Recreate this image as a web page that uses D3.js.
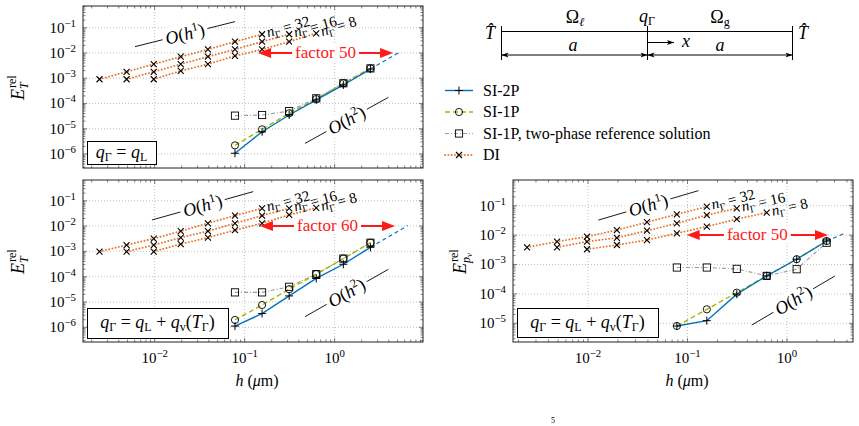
<!DOCTYPE html>
<meta charset="utf-8">
<body style="margin:0;background:#fff">
<script src="https://cdn.jsdelivr.net/npm/d3@7/dist/d3.min.js"></script>
<script>

const width = 859, height = 426
const colors = {si2p: '#0072bd', si1p: '#a9b600', ref: '#9a9a9a', di: '#e8772e', red: '#ff1a1a'}
const serifFace = 'Liberation Serif'

// mesh sizes h (um)
const hSI = [0.078125, 0.15625, 0.3125, 0.625, 1.25, 2.5]
const hDI = [0.00244, 0.00488, 0.00977, 0.0195, 0.0391, 0.078125, 0.15625, 0.3125, 0.625]
const nGamma = [32, 16, 8]
const diStart = [0, 1, 2]   // first hDI index of each DI series

// top left: q_G = q_L
const si2pA = [1.07e-6, 7.6e-6, 3.5e-5, 1.38e-4, 5.4e-4, 2.3e-3]
const si1pA = [2.2e-6, 9.5e-6, 4.1e-5, 1.5e-4, 6.3e-4, 2.45e-3]
const refA  = [3.3e-5, 3.5e-5, 5.0e-5, 1.6e-4, 6.3e-4, 2.45e-3]
const di32A = [9.1e-4, 1.8e-3, 3.6e-3, 7.1e-3, 1.38e-2, 2.8e-2, 5.5e-2]
const di16A = [9.1e-4, 1.8e-3, 3.6e-3, 7.1e-3, 1.38e-2, 2.8e-2, 5.5e-2]
const di8A  = [9.1e-4, 1.95e-3, 3.6e-3, 7.6e-3, 1.38e-2, 2.8e-2, 6.0e-2]
const extA  = [[2.5, 2.3e-3], [5.1, 1.0e-2]]
const arrowA = {h: [0.141, 4.46], e: 1e-2, text: 'factor 50'}
const o1A = [[0.00605, 0.0178], [0.0782, 0.174]]
const o2A = [[0.468, 2.63e-6], [3.95, 1.74e-4]]

// bottom left: q_G = q_L + q_v(T_G)
const si2pB = [1.12e-6, 3.5e-6, 1.74e-5, 8.5e-5, 3.1e-4, 1.45e-3]
const si1pB = [1.95e-6, 7.6e-6, 3.2e-5, 1.26e-4, 5.2e-4, 2.2e-3]
const refB  = [2.4e-5, 2.4e-5, 4.0e-5, 1.26e-4, 5.2e-4, 2.2e-3]
const di32B = [9.8e-4, 1.78e-3, 3.2e-3, 6.3e-3, 1.29e-2, 2.6e-2, 5.0e-2]
const di16B = [9.8e-4, 1.78e-3, 3.5e-3, 6.3e-3, 1.29e-2, 2.6e-2, 5.0e-2]
const di8B  = [9.8e-4, 1.95e-3, 3.5e-3, 6.9e-3, 1.29e-2, 2.75e-2, 5.2e-2]
const extB  = [[2.5, 1.45e-3], [6.5, 1.05e-2]]
const arrowB = {h: [0.148, 4.69], e: 1e-2, text: 'factor 60'}
const o1B = [[0.00933, 0.0174], [0.1245, 0.229]]
const o2B = [[0.468, 2.63e-6], [3.95, 1.95e-4]]

// bottom right: vapour pressure error
const si2pC = [8.1e-6, 1.23e-5, 9.8e-5, 4.1e-4, 1.51e-3, 6.3e-3]
const si1pC = [8.1e-6, 3.0e-5, 1.1e-4, 4.1e-4, 1.51e-3, 6.3e-3]
const refC  = [7.9e-4, 7.9e-4, 7.1e-4, 4.1e-4, 6.9e-4, 5.5e-3]
const di32C = [3.85e-3, 6.0e-3, 8.9e-3, 1.48e-2, 2.75e-2, 5.1e-2, 9.3e-2]
const di16C = [3.85e-3, 6.0e-3, 8.1e-3, 1.41e-2, 2.5e-2, 4.8e-2, 8.1e-2]
const di8C  = [3.3e-3, 4.6e-3, 6.8e-3, 1.15e-2, 1.95e-2, 3.5e-2, 5.8e-2]
const extC  = [[2.5, 6.3e-3], [3.7, 1.1e-2]]
const arrowC = {h: [0.098, 2.58], e: 1e-2, text: 'factor 50'}
const o1C = [[0.0127, 0.0324], [0.1285, 0.324]]
const o2C = [[0.4416, 8.7e-6], [3.03, 4.07e-4]]

const svg = d3.select('body').append('svg')
    .attr('width', width).attr('height', height)

const defs = svg.append('defs')
defs.append('marker').attr('id', 'tip')
    .attr('viewBox', '0 0 10 10').attr('refX', 10).attr('refY', 5)
    .attr('markerWidth', 7).attr('markerHeight', 7).attr('orient', 'auto-start-reverse')
    .attr('markerUnits', 'userSpaceOnUse')
  .append('path').attr('d', 'M0,1.5L10,5L0,8.5L2.5,5Z').attr('fill', '#000')

function txt(sel) {
  return sel.append('text')
    .attr('font-family', serifFace)
    .style('font-family', serifFace, 'important')
}

function logTicks(dom) {
  const major = [], minor = []
  const lo = Math.floor(Math.log10(dom[0])), hi = Math.ceil(Math.log10(dom[1]))
  for (let k = lo; k <= hi; k++) {
    for (let m = 1; m < 10; m++) {
      const v = m * Math.pow(10, k)
      if (v < dom[0] || v > dom[1]) continue
      if (m === 1) major.push(v); else minor.push(v)
    }
  }
  return {major, minor}
}

function powLabel(sel, v, size) {
  const k = Math.round(Math.log10(v))
  sel.append('tspan').text('10')
  sel.append('tspan').attr('dy', -6).attr('font-size', size * 0.72)
    .text(k < 0 ? '\u2212' + (-k) : k)
}

const marks = {
  plus: (g, cx, cy) => g.append('path').attr('d', `M${cx-4},${cy}h8M${cx},${cy-4}v8`)
      .attr('stroke', '#000').attr('stroke-width', 1),
  circle: (g, cx, cy) => g.append('circle').attr('cx', cx).attr('cy', cy).attr('r', 3.6)
      .attr('fill', 'none').attr('stroke', '#000').attr('stroke-width', 0.9),
  square: (g, cx, cy) => g.append('rect').attr('x', cx-3.6).attr('y', cy-3.6)
      .attr('width', 7.2).attr('height', 7.2)
      .attr('fill', 'none').attr('stroke', '#000').attr('stroke-width', 0.9),
  cross: (g, cx, cy) => g.append('path').attr('d', `M${cx-3},${cy-3}l6,6M${cx-3},${cy+3}l6,-6`)
      .attr('stroke', '#000').attr('stroke-width', 1.1)
}

const styles = {
  si2p: {stroke: colors.si2p, dash: null, width: 1.4},
  si1p: {stroke: colors.si1p, dash: '5,3', width: 1.4},
  ref:  {stroke: colors.ref, dash: '4,2,1,2', width: 1.1},
  di:   {stroke: colors.di, dash: '0.1,3.2', width: 1.9}
}

function drawLine(g, pts, st, x, y) {
  g.append('path')
    .attr('d', d3.line().x(d => x(d[0])).y(d => y(d[1]))(pts))
    .attr('fill', 'none')
    .attr('stroke', st.stroke)
    .attr('stroke-width', st.width)
    .attr('stroke-dasharray', st.dash)
    .attr('stroke-linecap', st === styles.di ? 'round' : 'butt')
}

function orderLabel(g, seg, sup, x, y) {
  const p0 = [x(seg[0][0]), y(seg[0][1])], p1 = [x(seg[1][0]), y(seg[1][1])]
  g.append('line').attr('x1', p0[0]).attr('y1', p0[1]).attr('x2', p1[0]).attr('y2', p1[1])
    .attr('stroke', '#000').attr('stroke-width', 0.9)
  const ang = Math.atan2(p1[1] - p0[1], p1[0] - p0[0]) * 180 / Math.PI
  const lg = g.append('g')
    .attr('transform', `translate(${(p0[0]+p1[0])/2},${(p0[1]+p1[1])/2}) rotate(${ang})`)
  const t = txt(lg).attr('text-anchor', 'middle').attr('y', 6).attr('font-size', 18)
  t.append('tspan').attr('font-style', 'italic').text('O')
  t.append('tspan').text('(')
  t.append('tspan').attr('font-style', 'italic').text('h')
  t.append('tspan').attr('dy', -7).attr('font-size', 12).text(sup)
  t.append('tspan').attr('dy', 7).text(')')
  const bb = t.node().getBBox()
  lg.insert('rect', 'text').attr('x', bb.x - 3).attr('y', bb.y + 1)
    .attr('width', bb.width + 6).attr('height', bb.height - 2).attr('fill', '#fff')
}

function qLabel(sel, full) {
  sel.append('tspan').attr('font-style', 'italic').text('q')
  sel.append('tspan').attr('dy', 3).attr('font-size', 12).text('\u0393')
  sel.append('tspan').attr('dy', -3).text(' = ')
  sel.append('tspan').attr('font-style', 'italic').text('q')
  sel.append('tspan').attr('dy', 3).attr('font-size', 12).text('L')
  if (full) {
    sel.append('tspan').attr('dy', -3).text(' + ')
    sel.append('tspan').attr('font-style', 'italic').text('q')
    sel.append('tspan').attr('dy', 3).attr('font-size', 12).text('v')
    sel.append('tspan').attr('dy', -3).text('(')
    sel.append('tspan').attr('font-style', 'italic').text('T')
    sel.append('tspan').attr('dy', 3).attr('font-size', 12).text('\u0393')
    sel.append('tspan').attr('dy', -3).text(')')
  }
}

function drawPanel(p) {
  const x = d3.scaleLog().domain(p.xDom).range([p.left, p.right])
  const y = d3.scaleLog().domain(p.yDom).range([p.bottom, p.top])
  const g = svg.append('g')
  const xt = logTicks(p.xDom), yt = logTicks(p.yDom)

  // grid
  g.selectAll(null).data(xt.major).enter().append('line')
    .attr('x1', d => x(d)).attr('x2', d => x(d)).attr('y1', p.top).attr('y2', p.bottom)
    .attr('stroke', '#b0b0b0').attr('stroke-width', 0.8).attr('stroke-dasharray', '1,2')
  g.selectAll(null).data(yt.major).enter().append('line')
    .attr('y1', d => y(d)).attr('y2', d => y(d)).attr('x1', p.left).attr('x2', p.right)
    .attr('stroke', '#b0b0b0').attr('stroke-width', 0.8).attr('stroke-dasharray', '1,2')

  // ticks, all four sides, inward
  const tickPath = []
  xt.major.concat(xt.minor).forEach(v => {
    const L = xt.major.includes(v) ? 4 : 2.5, X = x(v)
    tickPath.push(`M${X},${p.bottom}v${-L}M${X},${p.top}v${L}`)
  })
  yt.major.concat(yt.minor).forEach(v => {
    const L = yt.major.includes(v) ? 4 : 2.5, Y = y(v)
    tickPath.push(`M${p.left},${Y}h${L}M${p.right},${Y}h${-L}`)
  })
  g.append('path').attr('d', tickPath.join('')).attr('fill', 'none')
    .attr('stroke', '#333').attr('stroke-width', 0.6)

  // tick labels
  yt.major.forEach(v => {
    const t = txt(g).attr('x', p.left - 7).attr('y', y(v) + 5)
      .attr('text-anchor', 'end').attr('font-size', 15)
    powLabel(t, v, 15)
  })
  if (p.xLabels) {
    xt.major.forEach(v => {
      const t = txt(g).attr('x', x(v)).attr('y', p.bottom + 21)
        .attr('text-anchor', 'middle').attr('font-size', 15)
      powLabel(t, v, 15)
    })
    const xl = txt(g).attr('x', (p.left + p.right) / 2 + 4).attr('y', p.bottom + 44)
      .attr('text-anchor', 'middle').attr('font-size', 16)
    xl.append('tspan').attr('font-style', 'italic').text('h')
    xl.append('tspan').text(' (')
    xl.append('tspan').attr('font-style', 'italic').text('\u03bc')
    xl.append('tspan').text('m)')
  }

  // y label E^rel_sub
  const yl = g.append('g').attr('transform', `translate(${p.yLabelX},${(p.top + p.bottom) / 2}) rotate(-90)`)
  const e = txt(yl).attr('font-size', 18).attr('font-style', 'italic').text('E')
  const ew = e.node().getComputedTextLength()
  const tot = ew + 15
  e.attr('x', -tot / 2)
  txt(yl).attr('x', -tot / 2 + ew + 1).attr('y', -8).attr('font-size', 12).text('rel')
  const s = txt(yl).attr('x', -tot / 2 + ew).attr('y', 4).attr('font-size', 12).attr('font-style', 'italic')
  if (p.yLabelSub === 'p') {
    s.append('tspan').text('p')
    s.append('tspan').attr('dy', 2).attr('font-size', 9).text('v')
  } else s.text('T')

  // DI series
  p.di.forEach((vals, i) => {
    const pts = vals.map((v, j) => [hDI[diStart[i] + j], v])
    drawLine(g, pts, styles.di, x, y)
  })
  // SI series
  drawLine(g, hSI.map((h, i) => [h, p.ref[i]]), styles.ref, x, y)
  drawLine(g, hSI.map((h, i) => [h, p.si1p[i]]), styles.si1p, x, y)
  drawLine(g, hSI.map((h, i) => [h, p.si2p[i]]), styles.si2p, x, y)
  g.append('path')
    .attr('d', d3.line().x(d => x(d[0])).y(d => y(d[1]))(p.ext))
    .attr('fill', 'none').attr('stroke', colors.si2p).attr('stroke-width', 1.1)
    .attr('stroke-dasharray', '4,3')

  // markers
  p.di.forEach((vals, i) => vals.forEach((v, j) => marks.cross(g, x(hDI[diStart[i] + j]), y(v))))
  hSI.forEach((h, i) => marks.square(g, x(h), y(p.ref[i])))
  hSI.forEach((h, i) => marks.circle(g, x(h), y(p.si1p[i])))
  hSI.forEach((h, i) => marks.plus(g, x(h), y(p.si2p[i])))

  // n_Gamma labels at the end of each DI series
  p.di.forEach((vals, i) => {
    const n = vals.length
    const a = [x(hDI[diStart[i] + n - 2]), y(vals[n - 2])]
    const b = [x(hDI[diStart[i] + n - 1]), y(vals[n - 1])]
    const ang = Math.atan2(b[1] - a[1], b[0] - a[0]) * 180 / Math.PI
    const t = txt(g).attr('font-size', 15)
      .attr('transform', `translate(${b[0] + 6},${b[1] + 3}) rotate(${ang})`)
    t.append('tspan').attr('font-style', 'italic').text('n')
    t.append('tspan').attr('dy', 3).attr('font-size', 10).text('\u0393')
    t.append('tspan').attr('dy', -3).text(' = ' + nGamma[i])
  })

  // order lines
  orderLabel(g, p.o1, '1', x, y)
  orderLabel(g, p.o2, '2', x, y)

  // factor arrow
  const ax1 = x(p.arrow.h[0]), ax2 = x(p.arrow.h[1]), ay = y(p.arrow.e)
  g.append('line').attr('x1', ax1 + 8).attr('x2', ax2 - 8).attr('y1', ay).attr('y2', ay)
    .attr('stroke', colors.red).attr('stroke-width', 2)
  g.append('path').attr('d', `M${ax1},${ay}l13,-5v10Z M${ax2},${ay}l-13,-5v10Z`).attr('fill', colors.red)
  const ft = txt(g).attr('x', (ax1 + ax2) / 2).attr('y', ay + 5)
    .attr('text-anchor', 'middle').attr('font-size', 17).attr('fill', colors.red).text(p.arrow.text)
  const fb = ft.node().getBBox()
  g.insert('rect', () => ft.node()).attr('x', fb.x - 3).attr('y', fb.y + 1)
    .attr('width', fb.width + 6).attr('height', fb.height - 2).attr('fill', '#fff')

  // q box
  g.append('rect').attr('x', p.qBox[0] + 0.5).attr('y', p.qBox[1] + 0.5)
    .attr('width', p.qBox[2]).attr('height', p.qBox[3])
    .attr('fill', '#fff').attr('stroke', '#000').attr('stroke-width', 1)
  const qt = txt(g).attr('x', p.qBox[0] + p.qBox[2] / 2).attr('y', p.qBox[1] + p.qBox[3] / 2 + 5)
    .attr('text-anchor', 'middle').attr('font-size', 18)
  qLabel(qt, p.qFull)

  // frame
  g.append('rect').attr('x', p.left).attr('y', p.top)
    .attr('width', p.right - p.left).attr('height', p.bottom - p.top)
    .attr('fill', 'none').attr('stroke', '#222').attr('stroke-width', 1)
}

drawPanel({left: 83, right: 423, top: 6, bottom: 168,
  xDom: [Math.pow(10, -2.796), Math.pow(10, 0.982)], yDom: [Math.pow(10, -6.554), Math.pow(10, -0.141)],
  si2p: si2pA, si1p: si1pA, ref: refA, di: [di32A, di16A, di8A], ext: extA, arrow: arrowA,
  o1: o1A, o2: o2A, qBox: [87, 141, 69, 23], qFull: false, xLabels: false, yLabelX: 24, yLabelSub: 'T'})

drawPanel({left: 83, right: 423, top: 180, bottom: 342,
  xDom: [Math.pow(10, -2.796), Math.pow(10, 0.982)], yDom: [Math.pow(10, -6.58), Math.pow(10, -0.18)],
  si2p: si2pB, si1p: si1pB, ref: refB, di: [di32B, di16B, di8B], ext: extB, arrow: arrowB,
  o1: o1B, o2: o2B, qBox: [87, 308, 141, 30], qFull: true, xLabels: true, yLabelX: 24, yLabelSub: 'T'})

drawPanel({left: 513, right: 853, top: 180, bottom: 342,
  xDom: [Math.pow(10, -2.754), Math.pow(10, 0.663)], yDom: [Math.pow(10, -5.636), Math.pow(10, -0.126)],
  si2p: si2pC, si1p: si1pC, ref: refC, di: [di32C, di16C, di8C], ext: extC, arrow: arrowC,
  o1: o1C, o2: o2C, qBox: [517, 308, 141, 29], qFull: true, xLabels: true, yLabelX: 466, yLabelSub: 'p'})

// legend
const legendItems = [
  {name: 'SI-2P', st: styles.si2p, mark: 'plus'},
  {name: 'SI-1P', st: styles.si1p, mark: 'circle'},
  {name: 'SI-1P, two-phase reference solution', st: styles.ref, mark: 'square'},
  {name: 'DI', st: styles.di, mark: 'cross'}
]
const lg = svg.append('g')
legendItems.forEach((d, i) => {
  const yy = 90.5 + i * 21.5
  lg.append('line').attr('x1', 445).attr('x2', 473).attr('y1', yy).attr('y2', yy)
    .attr('stroke', d.st.stroke).attr('stroke-width', d.st.width)
    .attr('stroke-dasharray', d.st.dash).attr('stroke-linecap', d.mark === 'cross' ? 'round' : 'butt')
  marks[d.mark](lg, 459, yy)
  txt(lg).attr('x', 483).attr('y', yy + 5).attr('font-size', 16).text(d.name)
})

// schematic of the 1D problem
const sk = svg.append('g').attr('stroke', '#000').attr('stroke-width', 1)
const xl = 501.5, xm = 647.5, xr = 792.5
sk.append('path').attr('d', `M${xl},26V60M${xm},26V60M${xr},26V60M${xl},31.5H${xr}`).attr('fill', 'none')
sk.append('line').attr('x1', xl).attr('x2', xm).attr('y1', 55).attr('y2', 55)
  .attr('marker-start', 'url(#tip)').attr('marker-end', 'url(#tip)')
sk.append('line').attr('x1', xm).attr('x2', xr).attr('y1', 55).attr('y2', 55)
  .attr('marker-start', 'url(#tip)').attr('marker-end', 'url(#tip)')
sk.append('line').attr('x1', xm).attr('x2', 674).attr('y1', 42.5).attr('y2', 42.5)
  .attr('marker-end', 'url(#tip)')
const skText = [
  {x: 490, y: 39, t: 'T\u0302'},
  {x: 803, y: 39, t: 'T\u0302'},
  {x: 573, y: 51, t: 'a'},
  {x: 720, y: 51, t: 'a'},
  {x: 686, y: 47, t: 'x'}
]
skText.forEach(d => txt(svg).attr('x', d.x).attr('y', d.y).attr('text-anchor', 'middle')
  .attr('font-size', 18).attr('font-style', 'italic').text(d.t))
const om1 = txt(svg).attr('x', 575).attr('y', 23).attr('text-anchor', 'middle').attr('font-size', 18)
om1.append('tspan').text('\u03a9')
om1.append('tspan').attr('dy', 3).attr('font-size', 12).attr('font-style', 'italic').text('\u2113')
const om2 = txt(svg).attr('x', 720).attr('y', 23).attr('text-anchor', 'middle').attr('font-size', 18)
om2.append('tspan').text('\u03a9')
om2.append('tspan').attr('dy', 3).attr('font-size', 12).text('g')
const qg = txt(svg).attr('x', 647).attr('y', 22).attr('text-anchor', 'middle').attr('font-size', 18)
qg.append('tspan').attr('font-style', 'italic').text('q')
qg.append('tspan').attr('dy', 3).attr('font-size', 12).text('\u0393')

txt(svg).attr('x', 551).attr('y', 423).attr('font-size', 8).text('5')

</script>
</body>
